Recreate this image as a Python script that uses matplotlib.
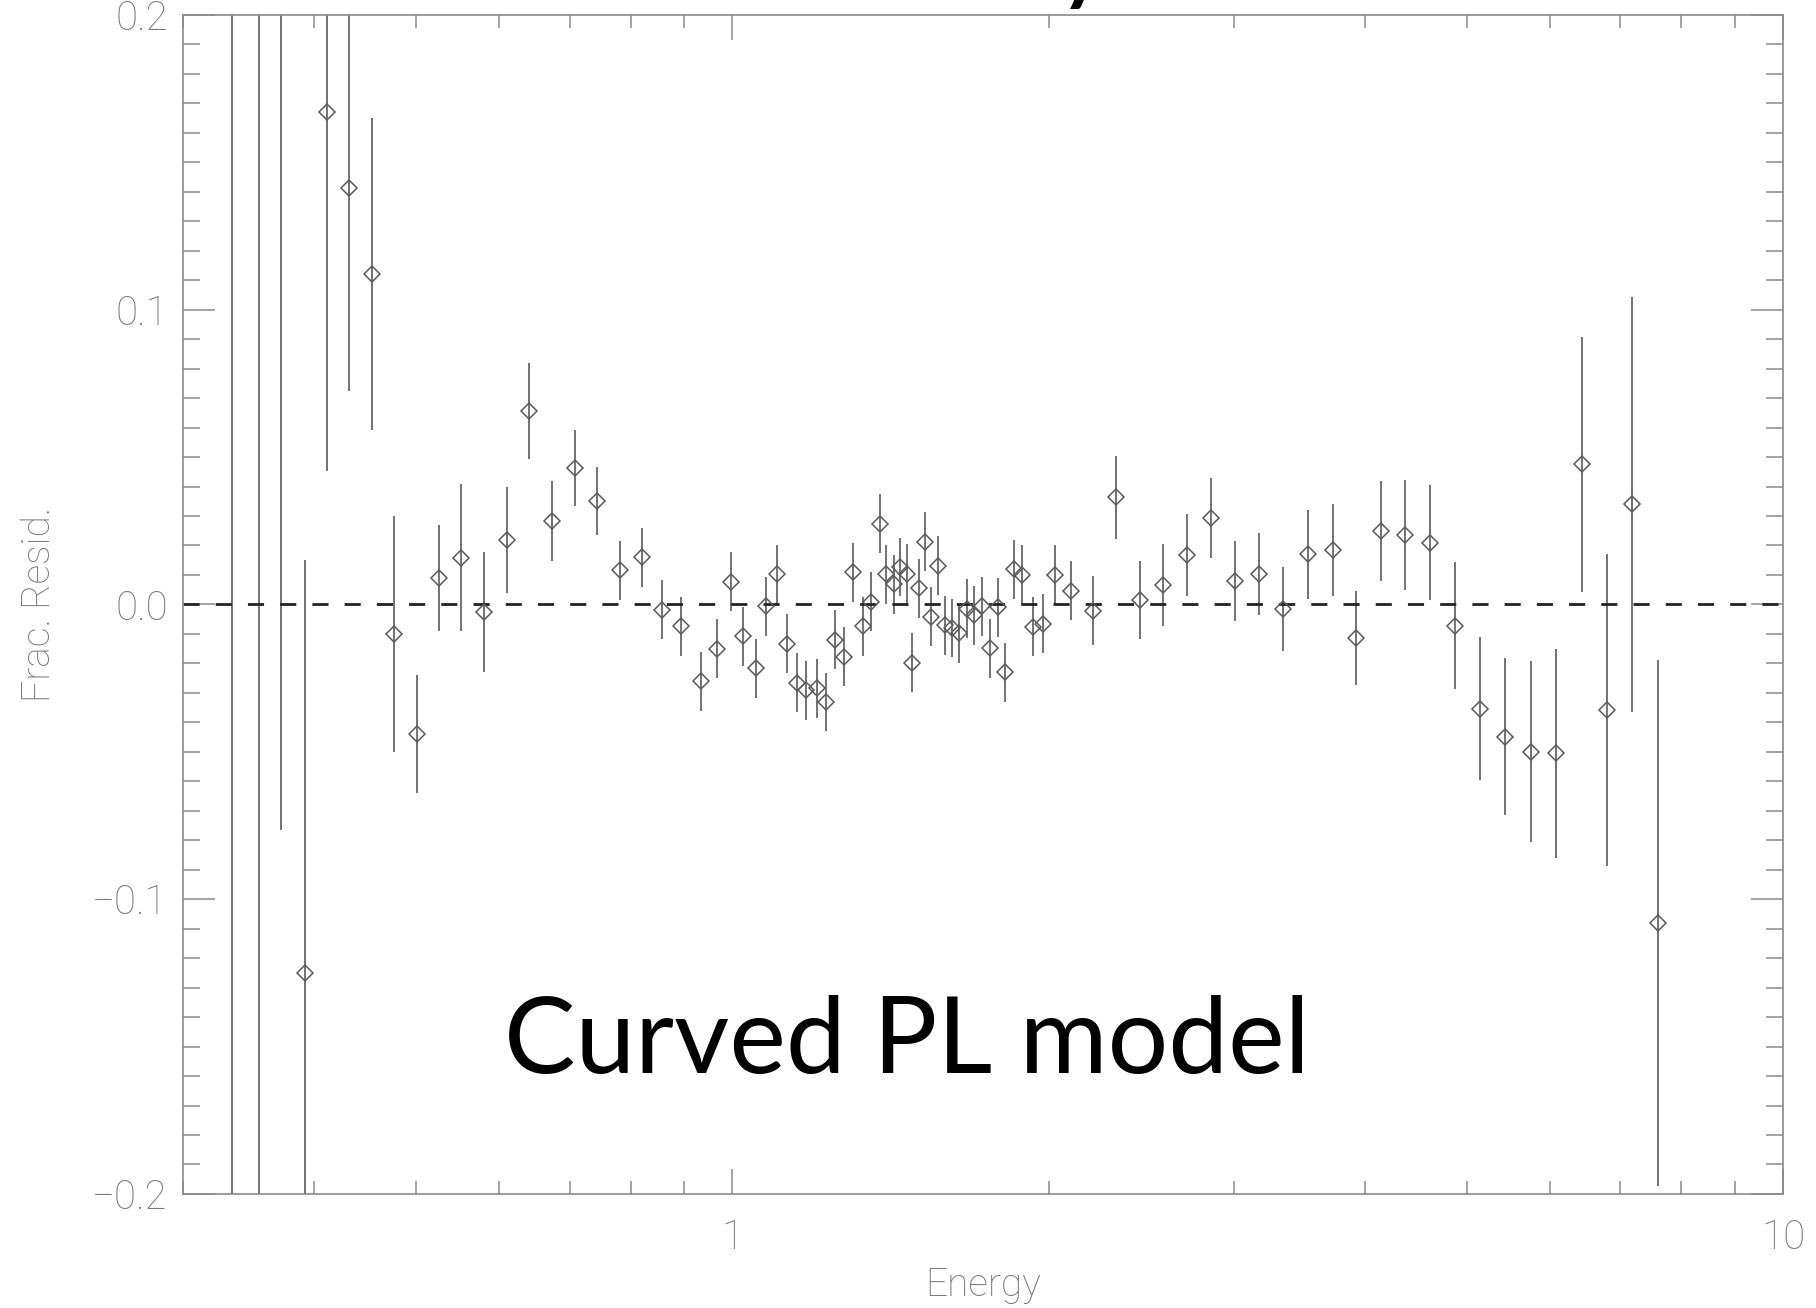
import numpy as np
import matplotlib
matplotlib.use("Agg")
import matplotlib.pyplot as plt
from matplotlib.ticker import MultipleLocator, LogLocator, NullFormatter

# residuals of the curved power-law fit
energy = [0.334, 0.354, 0.372, 0.392, 0.411, 0.432, 0.454, 0.476, 0.501, 0.526,
          0.552, 0.580, 0.610, 0.641, 0.674, 0.708, 0.743, 0.782, 0.820, 0.857,
          0.893, 0.933, 0.967, 0.996, 1.024, 1.052, 1.077, 1.103, 1.128, 1.152,
          1.176, 1.205, 1.228, 1.252, 1.276, 1.304, 1.332, 1.356, 1.382, 1.401,
          1.424, 1.443, 1.465, 1.484, 1.506, 1.526, 1.546, 1.569, 1.595, 1.618,
          1.644, 1.671, 1.700, 1.728, 1.758, 1.789, 1.818, 1.852, 1.887, 1.932,
          1.977, 2.028, 2.101, 2.203, 2.318, 2.443, 2.570, 2.708, 2.853, 3.007,
          3.170, 3.345, 3.530, 3.728, 3.927, 4.148, 4.372, 4.618, 4.877, 5.151,
          5.440, 5.762, 6.081, 6.434, 6.795, 7.181, 7.606]

resid = [0.45, 0.40, 0.26, -0.125, 0.1669, 0.1414, 0.1121, -0.0100, -0.0441, 0.0091,
         0.0159, -0.0025, 0.0219, 0.0656, 0.0282, 0.0463, 0.0350, 0.0116, 0.0160, -0.0018,
         -0.0074, -0.0261, -0.0150, 0.0077, -0.0108, -0.0217, -0.0006, 0.0102, -0.0133, -0.0266,
         -0.0291, -0.0284, -0.0331, -0.0119, -0.0177, 0.0109, -0.0074, 0.0009, 0.0273, 0.0102,
         0.0068, 0.0127, 0.0104, -0.0198, 0.0055, 0.0213, -0.0041, 0.0131, -0.0070, -0.0080,
         -0.0098, -0.0014, -0.0037, -0.0006, -0.0148, -0.0009, -0.0230, 0.0119, 0.0100, -0.0076,
         -0.0066, 0.0100, 0.0047, -0.0021, 0.0363, 0.0015, 0.0066, 0.0168, 0.0293, 0.0080,
         0.0104, -0.0015, 0.0170, 0.0185, -0.0114, 0.0250, 0.0235, 0.0209, -0.0072, -0.0354,
         -0.0449, -0.0499, -0.0505, 0.0475, -0.0358, 0.0340, -0.1081]

resid_err = [0.80, 0.75, 0.3365, 0.140, 0.1217, 0.069, 0.053, 0.040, 0.020, 0.018,
             0.025, 0.0204, 0.018, 0.0163, 0.0136, 0.0129, 0.0115, 0.010, 0.010, 0.010,
             0.010, 0.010, 0.010, 0.010, 0.010, 0.010, 0.010, 0.010, 0.010, 0.010,
             0.010, 0.010, 0.010, 0.010, 0.010, 0.010, 0.010, 0.010, 0.010, 0.010,
             0.010, 0.010, 0.010, 0.010, 0.010, 0.010, 0.010, 0.010, 0.010, 0.010,
             0.010, 0.010, 0.010, 0.010, 0.010, 0.010, 0.010, 0.010, 0.010, 0.010,
             0.010, 0.010, 0.010, 0.0116, 0.0142, 0.0133, 0.0139, 0.0139, 0.0135, 0.0135,
             0.0139, 0.0143, 0.015, 0.0155, 0.0158, 0.017, 0.0187, 0.0195, 0.0215, 0.0243,
             0.0266, 0.0307, 0.0355, 0.0432, 0.0528, 0.0704, 0.0893]

ytick_vals = [-0.2, -0.1, 0.0, 0.1, 0.2]
ytick_labels = ['\u22120.2', '\u22120.1', '0.0', '0.1', '0.2']
xtick_vals = [1, 10]
xtick_labels = ['1', '10']

AXIS_GREY = '#8a8a8a'
TEXT_GREY = '#7a7a7a'
DATA_GREY = '#5a5a5a'
label_font = dict(family=['Roboto', 'DejaVu Sans'], weight='light', size=28, color=TEXT_GREY)

fig = plt.figure(figsize=(18.16, 13.08), dpi=100)
ax = fig.add_axes([0.1008, 0.0872, 0.881, 0.9014])

ax.errorbar(energy, resid, yerr=resid_err, fmt='D', ms=8.5, mfc='none',
            mec=DATA_GREY, mew=1.1, ecolor=DATA_GREY, elinewidth=1.2, capsize=0)
ax.axhline(0.0, color='#222222', lw=2.0, dashes=(5.8, 5.8))

ax.set_xscale('log')
ax.set_xlim(0.3, 10)
ax.set_ylim(-0.2, 0.2)

ax.set_xticks(xtick_vals, labels=xtick_labels)
ax.xaxis.set_minor_locator(LogLocator(base=10, subs=np.arange(2, 10)))
ax.xaxis.set_minor_formatter(NullFormatter())
ax.set_yticks(ytick_vals, labels=ytick_labels)
ax.yaxis.set_minor_locator(MultipleLocator(0.01))

for sp in ax.spines.values():
    sp.set_color(AXIS_GREY)
    sp.set_linewidth(1.2)

ax.tick_params(axis='both', which='both', direction='in', top=True, right=True,
               color=AXIS_GREY, width=1.1)
ax.tick_params(axis='x', which='major', length=18, pad=18)
ax.tick_params(axis='x', which='minor', length=9.5)
ax.tick_params(axis='y', which='major', length=23, pad=11)
ax.tick_params(axis='y', which='minor', length=12)
for lab in ax.get_xticklabels() + ax.get_yticklabels():
    lab.set_fontfamily(label_font['family'])
    lab.set_fontweight('light')
    lab.set_fontsize(29)
    lab.set_color(TEXT_GREY)

ax.set_xlabel('Energy', **label_font)
ax.xaxis.label.set_va('baseline')
ax.xaxis.set_label_coords(0.5, -0.0865)
ax.set_ylabel('Frac. Resid.', **label_font)
ax.yaxis.label.set_va('baseline')
ax.yaxis.set_label_coords(-0.0831, 0.5)

# slide annotations (the title above is cropped, only a descender shows)
fig.text(0.4992, 0.1797, 'Curved PL model', family=['Lato', 'DejaVu Sans'],
         fontsize=77, color='black', ha='center', va='baseline')
fig.text(0.597, 1.008, 'y', family=['Lato', 'DejaVu Sans'],
         fontsize=80, color='black', ha='center', va='baseline')

fig.savefig('out.png', dpi=100)
